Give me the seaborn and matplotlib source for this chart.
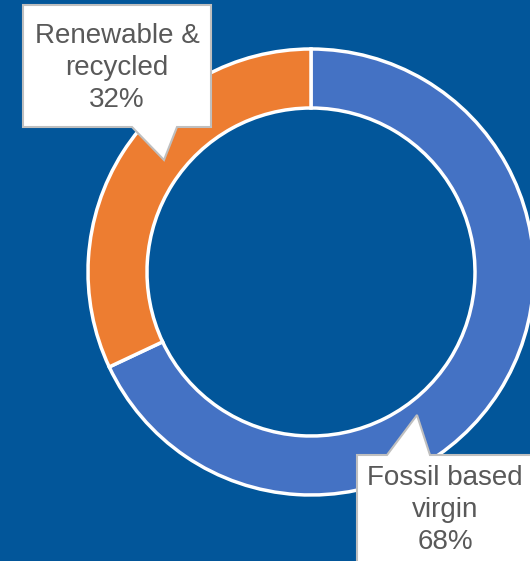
import matplotlib
matplotlib.use("Agg")
import matplotlib.pyplot as plt
from matplotlib.patches import Polygon
import seaborn as sns

# Material origin shares
categories = ["Fossil based\nvirgin", "Renewable &\nrecycled"]
shares = [68, 32]
colors = ["#4472C4", "#ED7D31"]

BG = "#02569A"
W, H = 530, 561

sns.set_theme(style="white")
plt.rcParams["font.family"] = ["Liberation Sans", "DejaVu Sans"]

fig = plt.figure(figsize=(W / 100, H / 100), dpi=100, facecolor=BG)
ax = fig.add_axes([0, 0, 1, 1])
ax.set_facecolor(BG)

cx, cy, r_out, ring = 311, H - 272, 223, 59
ax.pie(shares, colors=colors, startangle=90, counterclock=False,
       radius=r_out, center=(cx, cy),
       wedgeprops=dict(width=ring, edgecolor="white", linewidth=2.5))
ax.set_xlim(0, W)
ax.set_ylim(0, H)
ax.set_aspect("equal")
ax.axis("off")


def callout(pts, text, tx, ty):
    """Speech-bubble label; pts are (x, y) with y measured from the top."""
    poly = Polygon([(x, H - y) for x, y in pts], closed=True,
                   facecolor="white", edgecolor="#BFBFBF", linewidth=1.5,
                   zorder=5, clip_on=False)
    ax.add_patch(poly)
    ax.text(tx, H - ty, text, ha="center", va="center", fontsize=20,
            color="#595959", linespacing=1.3, zorder=6)


labels = [f"{c}\n{v}%" for c, v in zip(categories, shares)]

# Renewable & recycled (top-left)
callout([(23, 5), (211, 5), (211, 127), (177, 127), (164, 160),
         (132, 127), (23, 127)], labels[1], 117, 68)

# Fossil based virgin (bottom-right)
callout([(357, 455), (387, 455), (417, 415), (430, 455), (535, 455),
         (535, 566), (357, 566)], labels[0], 445, 510)

fig.savefig("out.png", dpi=100, facecolor=BG)
